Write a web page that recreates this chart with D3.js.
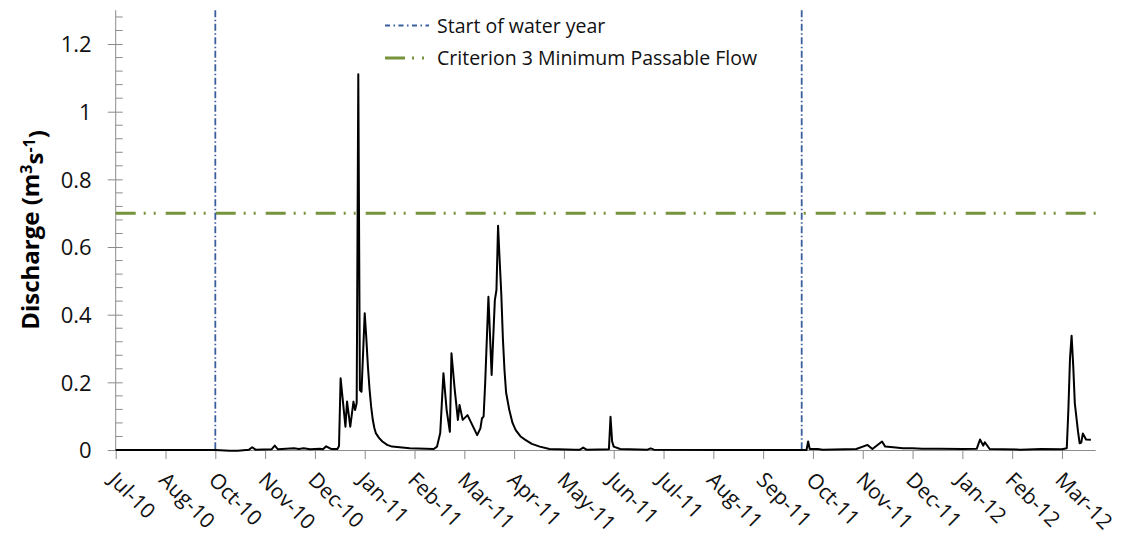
<!DOCTYPE html>
<html>
<head>
<meta charset="utf-8">
<script src="https://cdn.jsdelivr.net/npm/d3@7"></script>
<style>
  html, body { margin: 0; padding: 0; background: #fff; }
  svg { display: block; font-family: "Open Sans", sans-serif; }
</style>
</head>
<body>
<svg id="chart" width="1125" height="540"></svg>
<script>
// ---- Data ----
const flowDates = [
  "2010-07-31","2010-10-01","2010-10-10","2010-10-15","2010-10-22","2010-10-24","2010-10-26",
  "2010-11-05","2010-11-07","2010-11-09","2010-11-19","2010-11-22","2010-11-25","2010-11-29",
  "2010-12-05","2010-12-07","2010-12-09","2010-12-12","2010-12-16","2010-12-17","2010-12-18",
  "2010-12-21","2010-12-22","2010-12-24","2010-12-26","2010-12-27","2010-12-28","2010-12-29",
  "2010-12-30","2010-12-31","2011-01-02","2011-01-03","2011-01-04","2011-01-05","2011-01-06",
  "2011-01-07","2011-01-08","2011-01-09","2011-01-11","2011-01-13","2011-01-16","2011-01-19",
  "2011-01-30","2011-02-14","2011-02-16","2011-02-18","2011-02-20","2011-02-22",
  "2011-02-24","2011-02-25","2011-02-27","2011-03-01","2011-03-02","2011-03-04","2011-03-07",
  "2011-03-13","2011-03-15","2011-03-16","2011-03-17","2011-03-18","2011-03-20","2011-03-22",
  "2011-03-24","2011-03-25","2011-03-26","2011-03-27","2011-03-28","2011-03-29","2011-03-30",
  "2011-03-31","2011-04-02","2011-04-04","2011-04-06","2011-04-09","2011-04-12","2011-04-16",
  "2011-04-21","2011-04-27","2011-05-13","2011-05-16","2011-05-18","2011-05-20",
  "2011-06-03","2011-06-04","2011-06-05","2011-06-06","2011-06-10","2011-06-27","2011-06-29",
  "2011-07-01","2011-08-15","2011-10-04","2011-10-05","2011-10-06","2011-10-11","2011-10-14",
  "2011-11-04","2011-11-11","2011-11-14","2011-11-20","2011-11-22","2011-11-27","2011-12-03",
  "2011-12-09","2011-12-15","2011-12-26","2012-01-09","2012-01-18","2012-01-20","2012-01-22",
  "2012-01-23","2012-01-26","2012-02-14","2012-02-27","2012-03-11","2012-03-14","2012-03-15",
  "2012-03-16","2012-03-17","2012-03-18","2012-03-19","2012-03-21","2012-03-22","2012-03-23",
  "2012-03-24","2012-03-26","2012-03-29"
];
const flowValues = [
  0.000,0.000,-0.002,-0.002,0.001,0.008,0.001,
  0.002,0.013,0.002,0.005,0.003,0.005,0.002,
  0.004,0.002,0.011,0.003,0.003,0.012,0.212,
  0.069,0.143,0.069,0.143,0.118,0.139,1.111,
  0.177,0.172,0.404,0.330,0.246,0.180,0.128,
  0.090,0.065,0.049,0.035,0.025,0.015,0.010,
  0.005,0.003,0.010,0.050,0.227,0.118,
  0.054,0.286,0.180,0.089,0.133,0.089,0.103,
  0.044,0.064,0.094,0.099,0.200,0.453,0.222,
  0.443,0.473,0.663,0.560,0.463,0.330,0.236,
  0.170,0.118,0.080,0.059,0.040,0.030,0.018,
  0.010,0.003,0.001,0.001,0.007,0.001,
  0.002,0.098,0.025,0.010,0.003,0.001,0.005,
  0.001,0.000,0.000,0.025,0.003,0.003,0.001,
  0.003,0.015,0.003,0.025,0.010,0.008,0.005,
  0.005,0.004,0.004,0.003,0.004,0.031,0.013,
  0.023,0.003,0.001,0.003,0.002,0.005,0.120,
  0.270,0.338,0.250,0.138,0.054,0.020,0.022,
  0.049,0.031,0.030
];
const waterYearStarts = ["2010-10-01","2011-10-01"];
const minPassableFlow = 0.7;
const xTickDates = [
  "2010-07-31","2010-08-31","2010-10-01","2010-11-01","2010-12-02","2011-01-02","2011-02-02",
  "2011-03-05","2011-04-05","2011-05-06","2011-06-06","2011-07-07","2011-08-07","2011-09-07",
  "2011-10-08","2011-11-08","2011-12-09","2012-01-09","2012-02-09","2012-03-11"
];
const xTickLabels = [
  "Jul-10","Aug-10","Oct-10","Nov-10","Dec-10","Jan-11","Feb-11","Mar-11","Apr-11","May-11",
  "Jun-11","Jul-11","Aug-11","Sep-11","Oct-11","Nov-11","Dec-11","Jan-12","Feb-12","Mar-12"
];
const yTickValues = [0, 0.2, 0.4, 0.6, 0.8, 1.0, 1.2];
const yTickLabels = ["0","0.2","0.4","0.6","0.8","1","1.2"];
const legendLabels = ["Start of water year","Criterion 3 Minimum Passable Flow"];

// ---- Setup ----
const parse = d3.utcParse("%Y-%m-%d");
const svg = d3.select("#chart");
const plotLeft = 115.7, plotRight = 1095.7, plotTop = 10.2, plotBottom = 450;

const x = d3.scaleUtc()
  .domain([parse("2010-07-31"), parse("2012-04-01")])
  .range([plotLeft, plotRight]);
const y = d3.scaleLinear().domain([0, 1.3]).range([plotBottom, plotTop]);

const axisColor = "#8c8c8c";
const blue = "#3a5f9c";
const green = "#77933C";

// ---- Y axis ----
const yAxis = svg.append("g").attr("transform", `translate(${plotLeft},0)`);
yAxis.call(d3.axisLeft(y).tickValues(yTickValues).tickSize(8).tickPadding(16)
  .tickFormat((d, i) => yTickLabels[i]));
yAxis.select(".domain").remove();
yAxis.selectAll(".tick line").attr("x2", -8).attr("x1", 7).attr("stroke", axisColor);
yAxis.selectAll(".tick text").attr("font-size", 22).attr("fill", "#111")
  .attr("font-family", "Open Sans").attr("x", -24).attr("dy", "0.36em");
// minor ticks
const minor = d3.range(0, 1.3001, 0.04).filter(v => Math.abs(v / 0.2 - Math.round(v / 0.2)) > 1e-6);
yAxis.append("g").selectAll("line").data(minor).join("line")
  .attr("x1", 0).attr("x2", 7).attr("y1", d => y(d)).attr("y2", d => y(d))
  .attr("stroke", axisColor);
yAxis.append("line").attr("x1", 0).attr("x2", 0).attr("y1", y(1.3)).attr("y2", y(0))
  .attr("stroke", axisColor);

// ---- X axis ----
const xAxis = svg.append("g").attr("transform", `translate(0,${plotBottom})`);
xAxis.call(d3.axisBottom(x).tickValues(xTickDates.map(parse)).tickSize(9)
  .tickFormat((d, i) => xTickLabels[i]));
xAxis.select(".domain").attr("stroke", axisColor).attr("d", `M${plotLeft},0.5H${plotRight}`);
xAxis.selectAll(".tick line").attr("stroke", axisColor);
xAxis.selectAll(".tick text")
  .attr("font-size", 21).attr("fill", "#111").attr("font-family", "Open Sans")
  .attr("text-anchor", "start").attr("y", 0).attr("dy", "0.36em")
  .attr("transform", "translate(-3,26) rotate(45)");

// ---- Threshold and water-year lines ----
svg.append("line")
  .attr("x1", plotLeft).attr("x2", plotRight + 3)
  .attr("y1", y(minPassableFlow)).attr("y2", y(minPassableFlow))
  .attr("stroke", green).attr("stroke-width", 3)
  .attr("stroke-dasharray", "20,8,2,8,2,10");

svg.append("g").selectAll("line").data(waterYearStarts.map(parse)).join("line")
  .attr("x1", d => x(d)).attr("x2", d => x(d))
  .attr("y1", y(1.3)).attr("y2", y(0))
  .attr("stroke", blue).attr("stroke-width", 1.8)
  .attr("stroke-dasharray", "7,2.5,1.5,2.5");

// ---- Discharge series ----
const series = flowDates.map((d, i) => ({ date: parse(d), value: flowValues[i] }));
svg.append("path").datum(series)
  .attr("fill", "none").attr("stroke", "#000").attr("stroke-width", 2)
  .attr("stroke-linejoin", "round")
  .attr("d", d3.line().x(d => x(d.date)).y(d => y(d.value)));

// ---- Legend ----
const leg = svg.append("g").attr("font-family", "Open Sans").attr("font-size", 19.5);
leg.append("line").attr("x1", 385).attr("x2", 429).attr("y1", 25.5).attr("y2", 25.5)
  .attr("stroke", blue).attr("stroke-width", 1.8).attr("stroke-dasharray", "5,3.5,1.5,3.5");
leg.append("text").attr("x", 437).attr("y", 26).attr("dy", "0.36em").attr("fill", "#111")
  .text(legendLabels[0]);
leg.append("line").attr("x1", 385).attr("x2", 429).attr("y1", 58).attr("y2", 58)
  .attr("stroke", green).attr("stroke-width", 3).attr("stroke-dasharray", "20,7,2,8,2,10");
leg.append("text").attr("x", 437).attr("y", 58).attr("dy", "0.36em").attr("fill", "#111")
  .text(legendLabels[1]);

// ---- Y axis title ----
const yt = svg.append("text")
  .attr("transform", "translate(39,230) rotate(-90)")
  .attr("text-anchor", "middle").attr("font-family", "Open Sans")
  .attr("font-weight", "bold").attr("font-size", 24).attr("fill", "#000");
yt.append("tspan").text("Discharge (m");
yt.append("tspan").attr("dy", "-0.45em").attr("font-size", 16).text("3");
yt.append("tspan").attr("dy", "0.45em").text("s");
yt.append("tspan").attr("dy", "-0.45em").attr("font-size", 16).text("-1");
yt.append("tspan").attr("dy", "0.45em").text(")");
</script>
</body>
</html>
